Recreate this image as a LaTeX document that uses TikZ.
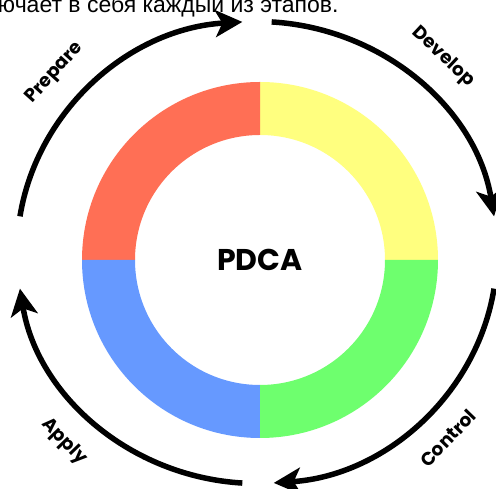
\documentclass[tikz,border=0pt]{standalone}
\usepackage{fontspec}
\setmainfont{Liberation Sans}
\newfontfamily\cyclefont{Poppins}
\usetikzlibrary{arrows.meta,calc}
\definecolor{pdcared}{HTML}{FF6F55}
\definecolor{pdcayellow}{HTML}{FFFF7F}
\definecolor{pdcagreen}{HTML}{6EFF6E}
\definecolor{pdcablue}{HTML}{6699FF}
\begin{document}
\begin{tikzpicture}[x=1pt,y=1pt,inner sep=0pt,outer sep=0pt,
cycarrow/.style={line width=5.5pt,-{Stealth[length=27pt,width=27pt,inset=7pt]}},
steplabel/.style={font=\cyclefont\bfseries\fontsize{18.5}{22}\selectfont}]
\useasboundingbox (0,0) rectangle (496,489);
\clip (0,0) rectangle (496,489);
\coordinate (ctr) at (260,229);
\coordinate (mid) at (257,236.5);
\foreach \a/\c in {0/pdcayellow,90/pdcared,180/pdcablue,270/pdcagreen}
  \fill[\c,shift={(260,229)}] (\a:178) arc[start angle=\a,delta angle=90,radius=178]
    -- (\a+90:125) arc[start angle=\a+90,delta angle=-90,radius=125] -- cycle;
\draw (ctr) node[font=\cyclefont\bfseries\fontsize{30}{34}\selectfont] (pdca) {PDCA};
\draw (-2,476) node[anchor=base west,font=\fontsize{23}{27}\selectfont] (title) {ючает в себя каждый из этапов.};
\coordinate (prepS) at ($(mid)+(171:240 and 231)$);
\coordinate (devS) at ($(mid)+(86.5:240 and 231)$);
\coordinate (ctrlS) at ($(mid)+(-9:240 and 231)$);
\coordinate (applS) at ($(mid)+(266.5:240 and 231)$);
\draw[cycarrow] (prepS) arc[start angle=171,end angle=93.5,x radius=240,y radius=231];
\draw[cycarrow] (devS) arc[start angle=86.5,end angle=9,x radius=240,y radius=231];
\draw[cycarrow] (ctrlS) arc[start angle=-9,end angle=-86,x radius=240,y radius=231];
\draw[cycarrow] (applS) arc[start angle=266.5,end angle=189,x radius=240,y radius=231];
\draw (55,416) node[steplabel,rotate=48] (prep) {Prepare};
\draw (443,432) node[steplabel,rotate=-43] (dev) {Develop};
\draw (448,51) node[steplabel,rotate=46] (ctrl) {Control};
\draw (64,47) node[steplabel,rotate=-46] (appl) {Apply};
\end{tikzpicture}
\end{document}
